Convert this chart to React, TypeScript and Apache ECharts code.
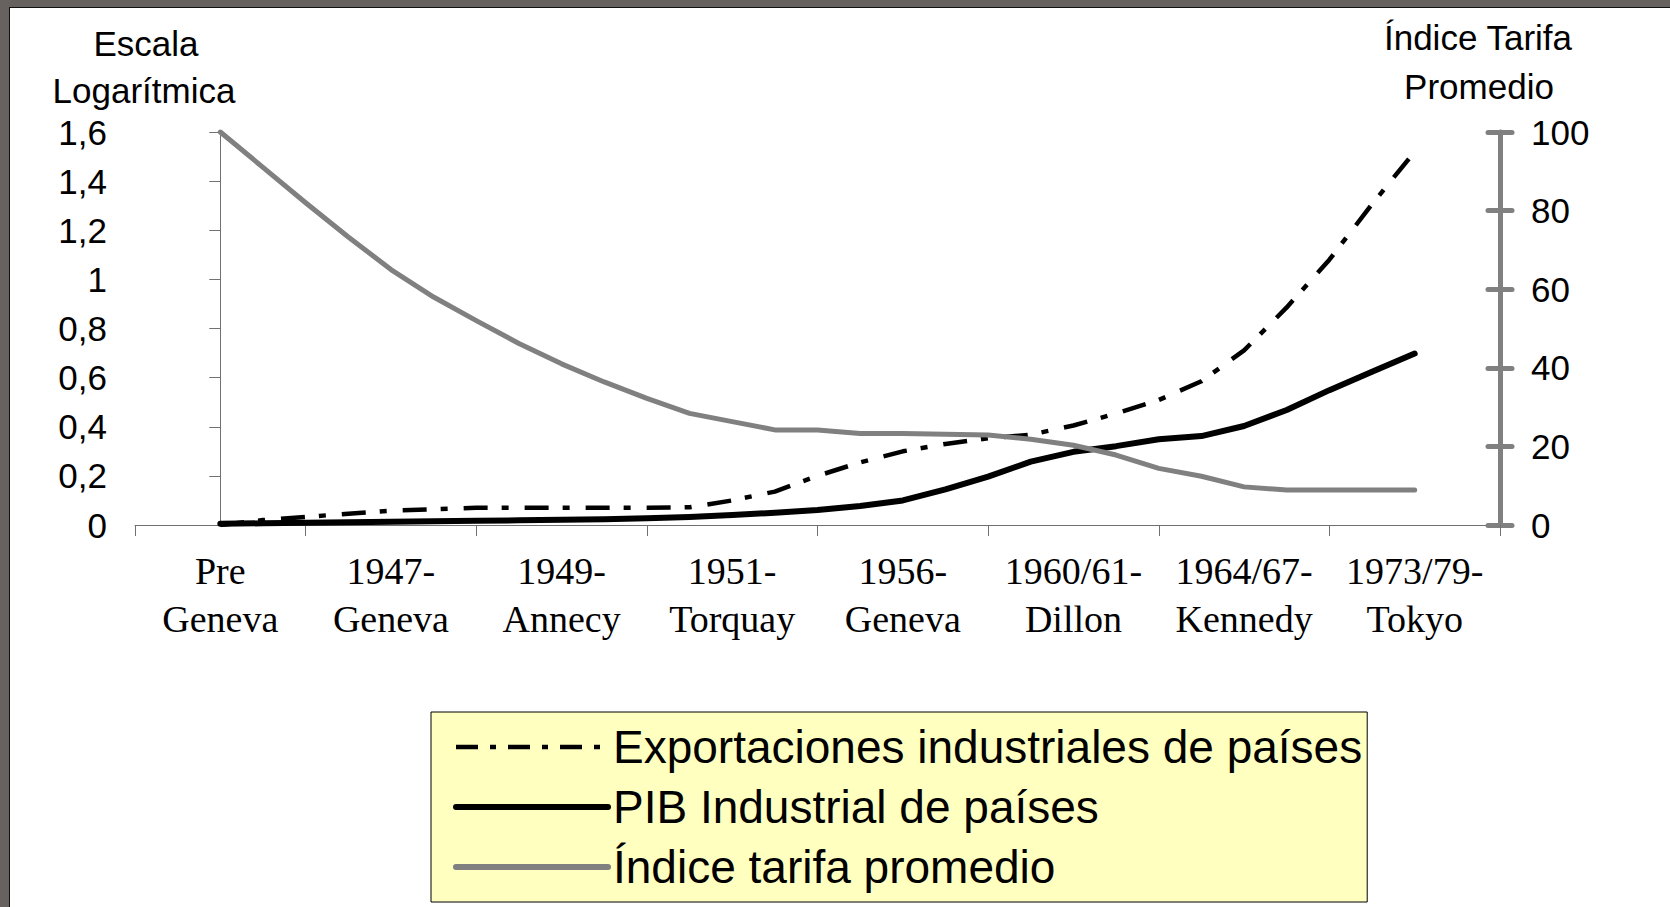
import React, { useEffect, useRef } from 'react';
import * as echarts from 'echarts';

const categories = [
  'Pre\nGeneva',
  '1947-\nGeneva',
  '1949-\nAnnecy',
  '1951-\nTorquay',
  '1956-\nGeneva',
  '1960/61-\nDillon',
  '1964/67-\nKennedy',
  '1973/79-\nTokyo',
];

// positions of the data points along the category axis (category index)
const xPositions = [
  0, 0.25, 0.5, 0.75, 1, 1.25, 1.5, 1.75, 2, 2.25, 2.5, 2.75, 3, 3.25, 3.5,
  3.75, 4, 4.25, 4.5, 4.75, 5, 5.25, 5.5, 5.75, 6, 6.25, 6.5, 6.75, 7,
];

const exportaciones = [
  0.0, 0.02, 0.033, 0.046, 0.058, 0.064, 0.07, 0.07, 0.07, 0.07, 0.07, 0.072,
  0.1, 0.136, 0.2, 0.255, 0.3, 0.33, 0.353, 0.368, 0.405, 0.454, 0.509, 0.585,
  0.711, 0.886, 1.08, 1.306, 1.52,
];

const pibIndustrial = [
  0.005, 0.007, 0.009, 0.011, 0.013, 0.015, 0.017, 0.019, 0.021, 0.023, 0.027,
  0.033, 0.041, 0.05, 0.061, 0.077, 0.1, 0.145, 0.197, 0.258, 0.298, 0.321,
  0.349, 0.362, 0.403, 0.468, 0.549, 0.624, 0.698,
];

const indiceTarifa = [
  100, 91, 82, 73.3, 65, 58, 52, 46.2, 41, 36.4, 32.2, 28.4, 26.3, 24.2, 24.2,
  23.3, 23.3, 23.1, 22.9, 21.8, 20.3, 17.8, 14.4, 12.4, 9.7, 8.9, 8.9, 8.9, 8.9,
];

const leftTickLabels = ['0', '0,2', '0,4', '0,6', '0,8', '1', '1,2', '1,4', '1,6'];
const rightTickLabels = ['0', '20', '40', '60', '80', '100'];

const seriesNames = [
  'Exportaciones industriales de países',
  'PIB Industrial de países',
  'Índice tarifa promedio',
];

const leftTitleLines = ['Escala', 'Logarítmica'];
const rightTitleLines = ['Índice Tarifa', 'Promedio'];

export default function App() {
  const ref = useRef<HTMLDivElement>(null);

  useEffect(() => {
    const chart = echarts.init(ref.current!, null, { renderer: 'svg' });
    const pair = (vals: number[]) => xPositions.map((x, i) => [x, vals[i]]);
    const sans = 'Liberation Sans';
    const gray = '#808080';
    const exportsLine = { color: '#000', width: 4.5, type: [24, 14, 7, 16], cap: 'butt' };
    const pibLine = { color: '#000', width: 6, cap: 'round', join: 'round' };
    const tarifaLine = { color: gray, width: 5, cap: 'round', join: 'round' };
    const titleStyle = (text: string) => ({
      text,
      fill: '#000',
      font: `35px "${sans}"`,
      align: 'center',
      verticalAlign: 'middle',
    });

    chart.setOption({
      animation: false,
      backgroundColor: '#ffffff',
      grid: { left: 135, right: 170, top: 132, bottom: 382, containLabel: false },
      graphic: [
        { type: 'rect', shape: { x: 0, y: 0, width: 1670, height: 7 }, style: { fill: '#67625f' }, silent: true },
        { type: 'rect', shape: { x: 0, y: 0, width: 9, height: 907 }, style: { fill: '#67625f' }, silent: true },
        { type: 'line', shape: { x1: 9, y1: 7.5, x2: 1670, y2: 7.5 }, style: { stroke: '#111', lineWidth: 1 }, silent: true },
        { type: 'line', shape: { x1: 9.5, y1: 7, x2: 9.5, y2: 907 }, style: { stroke: '#111', lineWidth: 1 }, silent: true },
        { type: 'text', x: 146, y: 43, style: titleStyle(leftTitleLines[0]), silent: true },
        { type: 'text', x: 144, y: 90, style: titleStyle(leftTitleLines[1]), silent: true },
        { type: 'text', x: 1478, y: 37, style: titleStyle(rightTitleLines[0]), silent: true },
        { type: 'text', x: 1479, y: 86, style: titleStyle(rightTitleLines[1]), silent: true },
      ],
      legend: {
        orient: 'vertical',
        left: 431,
        top: 712,
        data: [
          { name: seriesNames[0], lineStyle: { width: 4.5, type: [22, 12, 6, 12] } },
          { name: seriesNames[1], lineStyle: { width: 6 } },
          { name: seriesNames[2], lineStyle: { width: 6 } },
        ],
        itemWidth: 152,
        itemHeight: 1,
        itemGap: 4,
        itemStyle: { opacity: 0 },
        padding: [7, 5, 7, 22],
        backgroundColor: '#ffffc0',
        borderColor: '#000000',
        borderWidth: 1,
        textStyle: { fontFamily: sans, fontSize: 46, color: '#000', lineHeight: 56 },
      },
      xAxis: [
        {
          type: 'category',
          data: categories,
          boundaryGap: true,
          position: 'bottom',
          axisLine: { show: true, lineStyle: { color: '#707070', width: 1 } },
          axisTick: { show: true, length: 11, interval: 0, lineStyle: { color: '#707070', width: 1 } },
          axisLabel: {
            interval: 0,
            margin: 22,
            fontFamily: 'Liberation Serif',
            fontSize: 38,
            lineHeight: 48,
            color: '#000',
          },
          splitLine: { show: false },
        },
        {
          type: 'value',
          show: false,
          min: -0.5,
          max: 7.5,
          splitLine: { show: false },
        },
      ],
      yAxis: [
        {
          type: 'value',
          position: 'left',
          min: 0,
          max: 1.6,
          interval: 0.2,
          axisLine: { show: true, lineStyle: { color: '#707070', width: 1 } },
          axisTick: { show: true, length: 11, lineStyle: { color: '#707070', width: 1 } },
          axisLabel: {
            margin: 28,
            fontFamily: sans,
            fontSize: 35,
            color: '#000',
            formatter: (v: number) => leftTickLabels[Math.round(v * 5)] ?? '',
          },
          splitLine: { show: false },
        },
        {
          type: 'value',
          position: 'right',
          min: 0,
          max: 100,
          interval: 20,
          axisLine: { show: true, lineStyle: { color: gray, width: 5, cap: 'round' } },
          axisTick: { show: true, length: 12, lineStyle: { color: gray, width: 5, cap: 'round' } },
          axisLabel: {
            margin: 31,
            fontFamily: sans,
            fontSize: 35,
            color: '#000',
            formatter: (v: number) => rightTickLabels[Math.round(v / 20)] ?? '',
          },
          splitLine: { show: false },
        },
        {
          type: 'value',
          position: 'right',
          min: 0,
          max: 100,
          interval: 20,
          axisLine: { show: false },
          axisTick: { show: true, inside: true, length: 12, lineStyle: { color: gray, width: 5, cap: 'round' } },
          axisLabel: { show: false },
          splitLine: { show: false },
        },
      ],
      series: [
        {
          name: seriesNames[0],
          type: 'line',
          xAxisIndex: 1,
          yAxisIndex: 0,
          data: pair(exportaciones),
          symbol: 'none',
          color: '#000',
          lineStyle: exportsLine,
          z: 3,
        },
        {
          name: seriesNames[1],
          type: 'line',
          xAxisIndex: 1,
          yAxisIndex: 0,
          data: pair(pibIndustrial),
          symbol: 'none',
          color: '#000',
          lineStyle: pibLine,
          z: 4,
        },
        {
          name: seriesNames[2],
          type: 'line',
          xAxisIndex: 1,
          yAxisIndex: 1,
          data: pair(indiceTarifa),
          symbol: 'none',
          color: gray,
          lineStyle: tarifaLine,
          z: 5,
        },
      ],
    });

    return () => chart.dispose();
  }, []);

  return (
    <div
      ref={ref}
      style={{ position: 'fixed', left: 0, top: 0, width: 1670, height: 907, background: '#fff' }}
    />
  );
}
